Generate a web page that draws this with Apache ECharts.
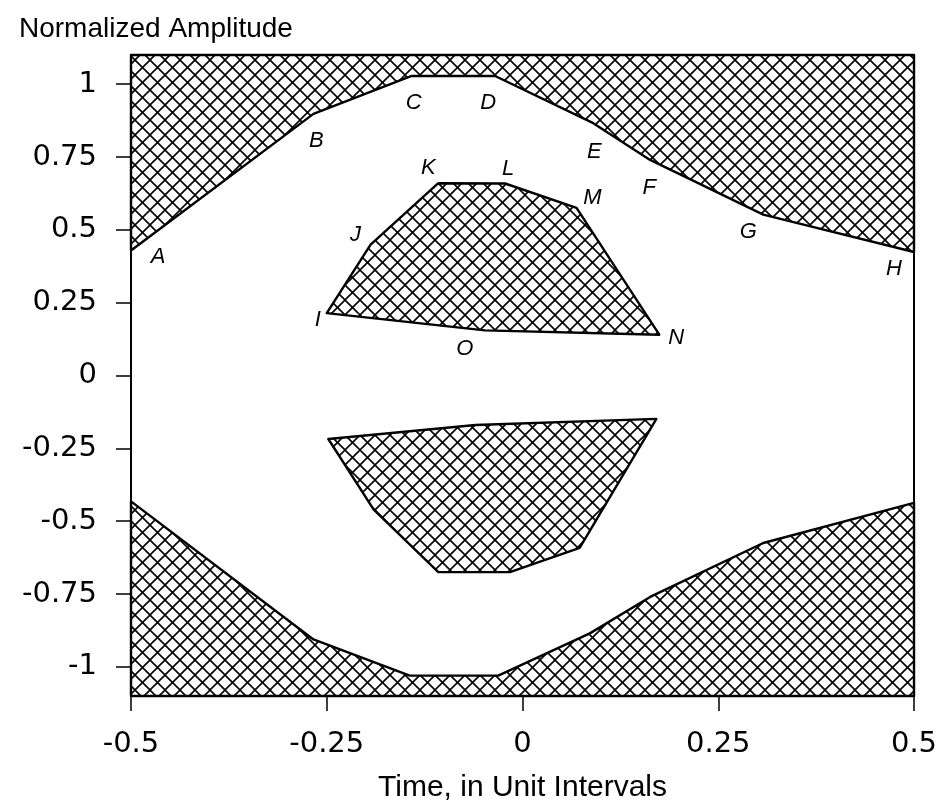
<!DOCTYPE html>
<html>
<head>
<meta charset="utf-8">
<title>Eye mask</title>
<script src="https://cdn.jsdelivr.net/npm/echarts@6/dist/echarts.min.js"></script>
<style>
  html, body { margin: 0; padding: 0; background: #fff; }
  #chart { width: 946px; height: 812px; }
</style>
</head>
<body>
<div id="chart"></div>
<script>
// Upper keep-out boundary, vertices A..H (time in UI, normalized amplitude)
const upperEdge = [
  [-0.5, 0.429], [-0.267, 0.898], [-0.1415, 1.028], [-0.035, 1.028],
  [0.0904, 0.866], [0.163, 0.74], [0.3075, 0.552], [0.5, 0.424]
];
const upperLetters = ['A', 'B', 'C', 'D', 'E', 'F', 'G', 'H'];

// Inner eye keep-out region above zero, vertices I..O
const innerUpper = [
  [-0.25, 0.214], [-0.194, 0.449], [-0.1075, 0.66], [-0.0223, 0.659],
  [0.069, 0.575], [0.1747, 0.14], [-0.048, 0.155]
];
const innerLetters = ['I', 'J', 'K', 'L', 'M', 'N', 'O'];

// Inner eye keep-out region below zero
const innerLower = [
  [-0.248, -0.218], [-0.19, -0.46], [-0.1075, -0.675], [-0.016, -0.675],
  [0.073, -0.592], [0.171, -0.149], [-0.06, -0.17]
];

// Lower keep-out boundary
const lowerEdge = [
  [-0.5, -0.432], [-0.267, -0.906], [-0.144, -1.03], [-0.031, -1.03],
  [0.086, -0.885], [0.163, -0.76], [0.3075, -0.575], [0.5, -0.437]
];

const xTicks = [-0.5, -0.25, 0, 0.25, 0.5];
const yTicks = [1, 0.75, 0.5, 0.25, 0, -0.25, -0.5, -0.75, -1];

const X_MIN = -0.5, X_MAX = 0.5, Y_MIN = -1.1, Y_MAX = 1.1;

// Letter placement relative to each vertex, in pixels
const letterOffsets = {
  A: [27, 6], B: [3, 27], C: [2, 27], D: [-7, 27], E: [1, 29], F: [-1, 28],
  G: [-15, 17], H: [-20, 17],
  I: [-9, 7], J: [-15, -10], K: [-10, -15], L: [3, -15], M: [16, -10],
  N: [17, 3], O: [-20, 19]
};

// Cross-hatch tile used to fill every keep-out region
const HATCH = 15;
function hatchTile() {
  const c = document.createElement('canvas');
  c.width = c.height = HATCH;
  const g = c.getContext('2d');
  g.strokeStyle = '#000';
  g.lineWidth = 1.6;
  for (const k of [-HATCH, 0, HATCH]) {
    g.beginPath();
    g.moveTo(k - 1, -1);
    g.lineTo(k + HATCH + 1, HATCH + 1);
    g.stroke();
    g.beginPath();
    g.moveTo(k + HATCH + 1, -1);
    g.lineTo(k - 1, HATCH + 1);
    g.stroke();
  }
  return c;
}
const hatchFill = { image: hatchTile(), repeat: 'repeat' };

// Polygon series: the vertices are the data, extra corners close against the axis limits
function maskSeries(name, vertices, closeTo) {
  return {
    type: 'custom',
    name: name,
    data: vertices,
    clip: false,
    z: 2,
    renderItem: function (params, api) {
      if (params.dataIndexInside !== 0) return null;
      const pts = [];
      for (let i = 0; i < vertices.length; i++) {
        pts.push(api.coord([api.value(0, i), api.value(1, i)]));
      }
      if (closeTo !== null) {
        pts.push(api.coord([X_MAX, closeTo]));
        pts.push(api.coord([X_MIN, closeTo]));
      }
      return {
        type: 'polygon',
        shape: { points: pts },
        style: { fill: hatchFill, stroke: '#000', lineWidth: 2.4, lineJoin: 'round' }
      };
    }
  };
}

function letterData(vertices, letters) {
  return vertices.map(function (v, i) {
    const name = letters[i];
    return { name: name, value: v, label: { offset: letterOffsets[name] } };
  });
}

const chart = echarts.init(document.getElementById('chart'), null, { renderer: 'canvas' });

chart.setOption({
  animation: false,
  backgroundColor: '#fff',
  title: {
    text: 'Normalized Amplitude',
    left: 14,
    top: 10,
    textStyle: { fontFamily: 'Liberation Sans', fontSize: 28, fontWeight: 'normal', color: '#000' }
  },
  grid: {
    left: 131, right: 32, top: 55, bottom: 116,
    show: true, borderColor: '#000', borderWidth: 2, backgroundColor: 'transparent'
  },
  xAxis: {
    type: 'value',
    min: X_MIN, max: X_MAX,
    splitLine: { show: false },
    axisLine: { show: true, onZero: false, lineStyle: { color: '#000', width: 2 } },
    axisTick: { show: true, length: 15, customValues: xTicks, lineStyle: { color: '#000', width: 1.5 } },
    axisLabel: {
      customValues: xTicks,
      margin: 34,
      fontFamily: 'DejaVu Sans', fontSize: 29, color: '#000',
      showMinLabel: true, showMaxLabel: true
    },
    name: 'Time, in Unit Intervals',
    nameLocation: 'middle',
    nameGap: 77,
    nameTextStyle: { fontFamily: 'Liberation Sans', fontSize: 30, color: '#000' }
  },
  yAxis: {
    type: 'value',
    min: Y_MIN, max: Y_MAX,
    splitLine: { show: false },
    axisLine: { show: true, onZero: false, lineStyle: { color: '#000', width: 2 } },
    axisTick: { show: true, length: 15, customValues: yTicks, lineStyle: { color: '#000', width: 1.5 } },
    axisLabel: {
      customValues: yTicks,
      margin: 34,
      fontFamily: 'DejaVu Sans', fontSize: 29, color: '#000'
    }
  },
  series: [
    maskSeries('upper', upperEdge, Y_MAX),
    maskSeries('lower', lowerEdge, Y_MIN),
    maskSeries('inner upper', innerUpper, null),
    maskSeries('inner lower', innerLower, null),
    {
      type: 'scatter',
      name: 'vertex letters',
      z: 3,
      symbol: 'circle',
      symbolSize: 1,
      itemStyle: { color: 'rgba(0,0,0,0)' },
      silent: true,
      label: {
        show: true, position: 'inside', formatter: '{b}',
        fontFamily: 'Liberation Sans', fontStyle: 'italic', fontSize: 22, color: '#000',
        textBorderWidth: 0, opacity: 1
      },
      data: letterData(upperEdge, upperLetters).concat(letterData(innerUpper, innerLetters))
    }
  ]
});
</script>
</body>
</html>
